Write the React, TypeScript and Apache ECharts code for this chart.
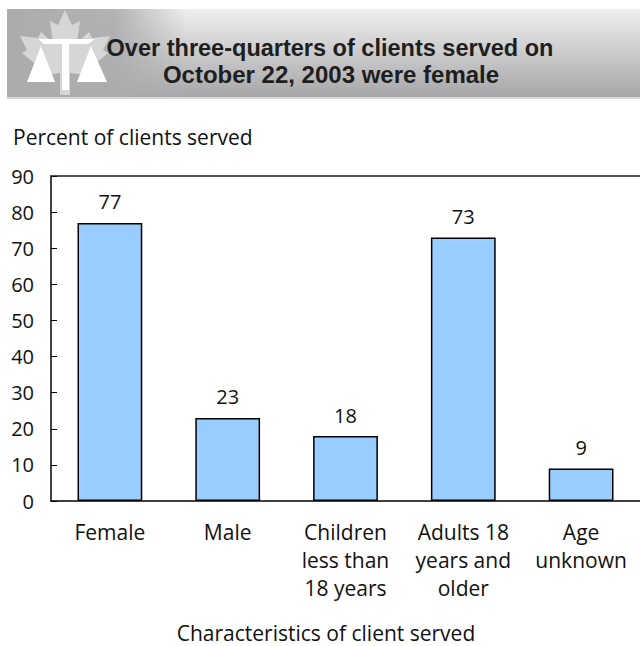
import React, { useEffect, useRef } from "react";
import * as echarts from "echarts";

const categories = [
  "Female",
  "Male",
  "Children\nless than\n18 years",
  "Adults 18\nyears and\nolder",
  "Age\nunknown",
];
const percentValues = [77, 23, 18, 73, 9];
const yTicks = { min: 0, max: 90, interval: 10 };
const titleLines = ["Over three-quarters of clients served on", "October 22, 2003 were female"];
const yAxisTitle = "Percent of clients served";
const xAxisTitle = "Characteristics of client served";

const FONT = "'Open Sans', 'Liberation Sans', Arial, sans-serif";
const TFONT = "'Liberation Sans', Arial, sans-serif";

const leaf = [
  [65, 10], [72, 25], [80, 21], [77, 43], [89, 32], [92, 38], [110, 36], [103, 50],
  [108, 53], [90, 68], [93, 76], [70, 73], [70, 95], [60, 95], [60, 73],
  [37, 76], [40, 68], [22, 53], [27, 50], [20, 36], [38, 38], [41, 32],
  [53, 43], [50, 21], [58, 25],
];

export default function App() {
  const ref = useRef<HTMLDivElement>(null);
  useEffect(() => {
    document.body.style.margin = "0";
    const chart = echarts.init(ref.current!, null, { renderer: "svg" });
    chart.setOption({
      animation: false,
      backgroundColor: "#ffffff",
      grid: { left: 51, top: 176, width: 603, height: 325, containLabel: false },
      xAxis: [
        {
          type: "category",
          data: categories,
          axisLine: { show: true, lineStyle: { color: "#000", width: 1.5 } },
          axisTick: { show: false },
          axisLabel: {
            color: "#111",
            fontSize: 21,
            fontFamily: FONT,
            lineHeight: 28,
            margin: 17,
            interval: 0,
          },
        },
        {
          type: "category",
          position: "top",
          data: categories,
          axisLine: { show: true, lineStyle: { color: "#555", width: 2 } },
          axisTick: { show: false },
          axisLabel: { show: false },
        },
      ],
      yAxis: {
        type: "value",
        min: yTicks.min,
        max: yTicks.max,
        interval: yTicks.interval,
        axisLine: { show: true, lineStyle: { color: "#000", width: 1.5 } },
        axisTick: { show: true, inside: true, length: 6, lineStyle: { color: "#000", width: 1 } },
        splitLine: { show: false },
        axisLabel: { color: "#111", fontSize: 20, fontFamily: FONT, margin: 17 },
      },
      series: [
        {
          type: "bar",
          data: percentValues,
          barWidth: "55%",
          itemStyle: { color: "#99ccff", borderColor: "#000", borderWidth: 1.5 },
          label: {
            show: true,
            position: "top",
            distance: 11,
            color: "#111",
            fontSize: 20,
            fontFamily: FONT,
          },
        },
      ],
      graphic: [
        {
          type: "rect",
          shape: { x: 7, y: 9, width: 640, height: 89 },
          style: {
            fill: new echarts.graphic.LinearGradient(0, 0, 0, 1, [
              { offset: 0, color: "#efeff0" },
              { offset: 1, color: "#a6a6a8" },
            ]),
          },
          z: 0,
        },
        {
          type: "rect",
          shape: { x: 7, y: 9, width: 180, height: 89 },
          style: {
            fill: new echarts.graphic.LinearGradient(0, 0, 1, 0, [
              { offset: 0, color: "rgba(172,172,174,1)" },
              { offset: 0.6, color: "rgba(172,172,174,0.9)" },
              { offset: 1, color: "rgba(172,172,174,0)" },
            ]),
          },
          z: 1,
        },
        {
          type: "rect",
          shape: { x: 7, y: 97, width: 640, height: 2 },
          style: { fill: "#d8d8d8" },
          z: 1,
        },
        {
          type: "polygon",
          shape: { points: leaf },
          style: { fill: "#d6d6d7" },
          z: 2,
        },
        {
          type: "polygon",
          shape: { points: [[38, 39], [95, 39], [88, 44], [44, 44]] },
          style: { fill: "#ffffff" },
          z: 3,
        },
        {
          type: "rect",
          shape: { x: 62, y: 43, width: 7, height: 47 },
          style: { fill: "#ffffff" },
          z: 3,
        },
        {
          type: "polygon",
          shape: { points: [[41, 46], [27, 82], [55, 82]] },
          style: { fill: "#ffffff" },
          z: 3,
        },
        {
          type: "polygon",
          shape: { points: [[91, 46], [77, 82], [107, 82]] },
          style: { fill: "#ffffff" },
          z: 3,
        },
        {
          type: "text",
          x: 330,
          y: 47,
          style: {
            text: titleLines[0],
            fill: "#1e1e1e",
            font: `bold 24px ${TFONT}`,
            textAlign: "center",
            textVerticalAlign: "middle",
          },
          scaleX: 0.98,
          z: 4,
        },
        {
          type: "text",
          x: 331,
          y: 74,
          style: {
            text: titleLines[1],
            fill: "#1e1e1e",
            font: `bold 24px ${TFONT}`,
            textAlign: "center",
            textVerticalAlign: "middle",
          },
          z: 4,
        },
        {
          type: "text",
          x: 13,
          y: 137,
          style: {
            text: yAxisTitle,
            fill: "#111",
            font: `21px ${FONT}`,
            textAlign: "left",
            textVerticalAlign: "middle",
          },
        },
        {
          type: "text",
          x: 326,
          y: 633,
          style: {
            text: xAxisTitle,
            fill: "#111",
            font: `21px ${FONT}`,
            textAlign: "center",
            textVerticalAlign: "middle",
          },
        },
      ],
    });
    return () => chart.dispose();
  }, []);
  return (
    <div
      ref={ref}
      style={{ position: "fixed", left: 0, top: 0, width: 640, height: 646 }}
    />
  );
}
